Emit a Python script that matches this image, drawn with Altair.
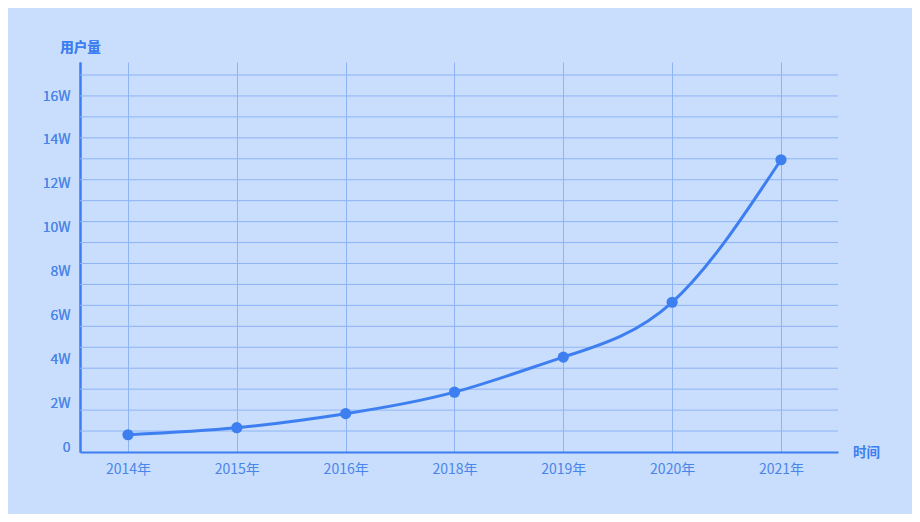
import json
import altair as alt
import pandas as pd

years = ["2014年", "2015年", "2016年", "2018年", "2019年", "2020年", "2021年"]
users_w = [0.56, 0.88, 1.52, 2.5, 4.1, 6.6, 13.1]   # 单位：万 (W)
y_ticks = [0, 2, 4, 6, 8, 10, 12, 14, 16]
grid_lines = list(range(1, 19))

df = pd.DataFrame({"idx": list(range(len(years))), "year": years, "users": users_w})
gdf = pd.DataFrame({"g": grid_lines})

BG = "#c9ddfc"
LINE = "#3d7ff0"
GRID = "#8eb4f6"
TXT = "#4a86ea"
FONT = "Noto Sans CJK SC"

label_expr = json.dumps(years, ensure_ascii=False) + "[datum.value]"

x_scale = alt.Scale(domain=[-0.441, 6.524], nice=False, zero=False)
y_scale = alt.Scale(domain=[-0.228, 17.556], nice=False, zero=False)

grid = alt.Chart(gdf).mark_rule(color=GRID, strokeWidth=1).encode(
    y=alt.Y("g:Q", scale=alt.Scale(domain=[0, 18.62], nice=False), axis=None)
)

x_enc = alt.X(
    "idx:Q",
    scale=x_scale,
    axis=alt.Axis(
        values=list(range(len(years))),
        labelExpr=label_expr,
        grid=True,
        gridColor=GRID,
        gridWidth=1,
        ticks=False,
        domainColor=LINE,
        domainWidth=2,
        labelColor=TXT,
        labelFont=FONT,
        labelFontSize=14,
        labelPadding=10,
        title="时间",
        titleFont=FONT,
        titleFontSize=13.5,
        titleFontWeight="bold",
        titleColor=LINE,
        titleAngle=0,
        titleX=786,
        titleY=0,
        titleAlign="center",
        titleBaseline="middle",
    ),
)

y_enc = alt.Y(
    "users:Q",
    scale=y_scale,
    axis=alt.Axis(
        orient="left",
        values=y_ticks,
        labelExpr="datum.value == 0 ? '0' : datum.value + 'W'",
        grid=False,
        ticks=False,
        domainColor=LINE,
        domainWidth=2,
        labelColor=TXT,
        labelFont=FONT,
        labelFontSize=14,
        labelPadding=10,
        title="用户量",
        titleFont=FONT,
        titleFontSize=13.5,
        titleFontWeight="bold",
        titleColor=LINE,
        titleAngle=0,
        titleX=0,
        titleY=-15,
        titleAlign="center",
        titleBaseline="middle",
    ),
)

base = alt.Chart(df).encode(x=x_enc, y=y_enc)
line = base.mark_line(color=LINE, strokeWidth=3, interpolate="natural")
points = base.mark_circle(color=LINE, size=125, opacity=1)

chart = (
    alt.layer(grid, line, points)
    .resolve_scale(y="independent")
    .properties(
        width=758,
        height=390,
        background=BG,
        padding={"left": 72, "top": 54, "right": 74, "bottom": 62},
        autosize=alt.AutoSizeParams(type="none"),
    )
    .configure_view(stroke=None)
)

chart.save("out.html", embed_options={"renderer": "svg", "actions": False})
